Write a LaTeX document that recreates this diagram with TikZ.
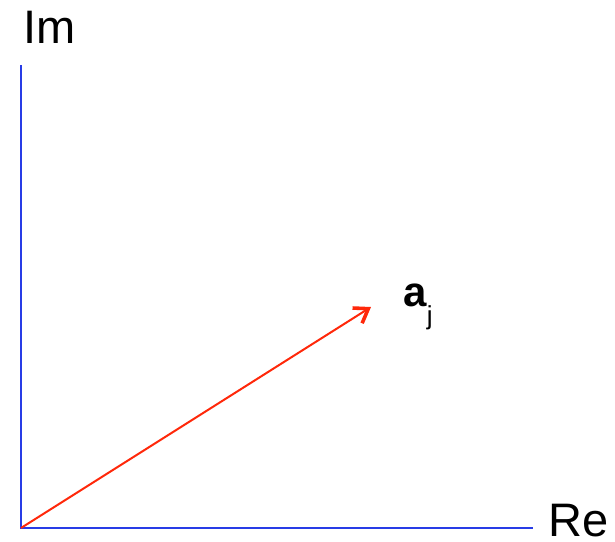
\documentclass[tikz,border=0pt]{standalone}
\usepackage{fontspec}
\setmainfont{Liberation Sans}
\usetikzlibrary{arrows.meta}
\definecolor{axisblue}{RGB}{40,60,230}
\definecolor{vecred}{RGB}{255,40,10}
\begin{document}
\begin{tikzpicture}[x=1pt,y=-1pt,
  axis/.style={draw=axisblue,line width=2pt},
  vec/.style={draw=vecred,line width=2pt,-{Straight Barb[length=13pt,width=18pt,line width=3.6pt]}},
  lbl/.style={inner sep=0pt,font=\fontsize{47}{47}\selectfont}]
\useasboundingbox (0,0) rectangle (615,541);
\coordinate (O) at (21,528);
\coordinate (top) at (21,65);
\coordinate (right) at (533,528);
\coordinate (tip) at (371,307);
\draw[axis] (top) -- (O) -- (right);
\draw[vec] (O) -- (tip);
\node[lbl,anchor=base west] (im) at (23,43) {Im};
\node[lbl,anchor=base west] (re) at (548,536) {Re};
\node[inner sep=0pt,anchor=base west,font=\fontsize{42}{42}\selectfont] (aj) at (403,306) {\textbf{a}\raisebox{-18pt}{\fontsize{26}{26}\selectfont j}};
\end{tikzpicture}
\end{document}
